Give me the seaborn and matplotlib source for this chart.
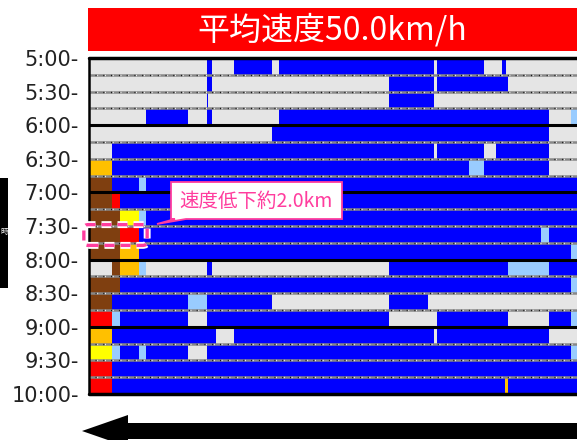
import numpy as np
import matplotlib
matplotlib.use("Agg")
import matplotlib.pyplot as plt
import seaborn as sns
from matplotlib.colors import ListedColormap
from matplotlib.patches import Rectangle, Polygon, FancyBboxPatch
import matplotlib.patheffects as pe

sns.set_theme(style="white")
plt.rcParams['font.family'] = ['DejaVu Sans', 'Noto Sans CJK JP']

W, H = 577, 440

title_text = "平均速度50.0km/h"
callout_text = "速度低下約2.0km"
side_text = "時"
time_ticks = ["5:00", "5:30", "6:00", "6:30", "7:00", "7:30",
              "8:00", "8:30", "9:00", "9:30", "10:00"]

# speed classes (code -> colour)
class_codes = ["G", "B", "L", "Y", "O", "R", "N"]
class_colors = ["#e5e5e5", "#0000ff", "#99ccff", "#ffff00",
                "#ffc000", "#ff0000", "#7f3f10"]

# each 15-min slot: runs of (class, end km)
slot_0500 = [("G", 4.72), ("B", 4.92), ("G", 5.8), ("B", 7.32), ("G", 7.6), ("B", 13.8),
             ("G", 13.92), ("B", 15.8), ("G", 16.52), ("B", 16.68), ("G", 20.0)]
slot_0515 = [("G", 4.72), ("B", 4.92), ("G", 12.0), ("B", 13.8), ("G", 13.92),
             ("B", 16.76), ("G", 20.0)]
slot_0530 = [("G", 4.72), ("B", 4.76), ("G", 12.0), ("B", 13.8), ("G", 20.0)]
slot_0545 = [("G", 2.28), ("B", 3.96), ("G", 4.72), ("B", 4.92), ("G", 7.6),
             ("B", 18.4), ("G", 19.28), ("L", 20.0)]
slot_0600 = [("G", 7.32), ("B", 18.4), ("G", 20.0)]
slot_0615 = [("G", 0.92), ("B", 13.8), ("G", 13.92), ("B", 15.8), ("G", 16.28),
             ("B", 18.4), ("G", 20.0)]
slot_0630 = [("O", 0.92), ("B", 15.2), ("L", 15.8), ("B", 18.4), ("G", 20.0)]
slot_0645 = [("N", 0.92), ("B", 2.0), ("L", 2.28), ("B", 20.0)]
slot_0700 = [("N", 0.92), ("R", 1.24), ("B", 20.0)]
slot_0715 = [("N", 1.24), ("Y", 2.0), ("L", 2.28), ("B", 20.0)]
slot_0730 = [("N", 1.24), ("R", 2.0), ("B", 18.08), ("L", 18.4), ("B", 20.0)]
slot_0745 = [("N", 1.24), ("O", 2.0), ("B", 19.28), ("L", 20.0)]
slot_0800 = [("G", 0.92), ("N", 1.24), ("O", 2.0), ("L", 2.28), ("G", 4.72), ("B", 4.92),
             ("G", 12.0), ("B", 16.76), ("L", 18.4), ("B", 20.0)]
slot_0815 = [("N", 1.24), ("B", 19.28), ("L", 20.0)]
slot_0830 = [("N", 0.92), ("B", 3.96), ("L", 4.72), ("B", 7.32), ("G", 12.0),
             ("B", 13.56), ("G", 20.0)]
slot_0845 = [("R", 0.92), ("L", 1.24), ("B", 3.96), ("G", 4.72), ("B", 12.0),
             ("G", 13.92), ("B", 16.76), ("G", 18.4), ("B", 19.28), ("L", 20.0)]
slot_0900 = [("O", 0.92), ("B", 5.08), ("G", 5.8), ("B", 13.8), ("G", 13.92),
             ("B", 18.4), ("G", 20.0)]
slot_0915 = [("Y", 0.92), ("L", 1.24), ("B", 2.0), ("L", 2.28), ("B", 3.96),
             ("G", 4.72), ("B", 19.28), ("L", 20.0)]
slot_0930 = [("R", 0.92), ("B", 20.0)]
slot_0945 = [("R", 0.92), ("B", 16.64), ("O", 16.76), ("B", 20.0)]

slots = [slot_0500, slot_0515, slot_0530, slot_0545, slot_0600, slot_0615,
         slot_0630, slot_0645, slot_0700, slot_0715, slot_0730, slot_0745,
         slot_0800, slot_0815, slot_0830, slot_0845, slot_0900, slot_0915,
         slot_0930, slot_0945]

step_km = 0.04
total_km = 20.0
ncol = int(round(total_km / step_km))
mat = np.zeros((len(slots), ncol))
for r, runs in enumerate(slots):
    s = 0
    for code, end in runs:
        e = int(round(end / step_km))
        mat[r, s:e] = class_codes.index(code)
        s = e

fig = plt.figure(figsize=(W / 100, H / 100), dpi=100)
ax_l, ax_top, ax_bot = 88.5, 58.0, 394.0
ax = fig.add_axes([ax_l / W, (H - ax_bot) / H, 500 / W, (ax_bot - ax_top) / H])
sns.heatmap(mat, ax=ax, cmap=ListedColormap(class_colors), vmin=-0.5, vmax=6.5,
            cbar=False, xticklabels=False, yticklabels=False, rasterized=True)

ax.set_yticks(np.arange(0, len(slots) + 1, 2))
ax.set_yticklabels([t + "-" for t in time_ticks], fontsize=15, color="#222222",
                   rotation=0)
ax.tick_params(axis="y", length=0, pad=7, left=False)
ax.set_ylim(len(slots), 0)
ax.set_xlim(0, ncol)

# row separators
for i in range(1, len(slots)):
    if i % 4 == 0:
        ax.axhline(i, color="black", lw=2.2, zorder=5)
    else:
        ax.axhline(i, color="#888888", lw=1.8, zorder=4)
        ax.axhline(i, color="white", lw=1.0, ls=(0, (0.6, 5.0)), zorder=4)
        ax.axhline(i, color="black", lw=1.0, ls=(1.2, (0.6, 5.0)), zorder=4)
ax.axhline(0, color="black", lw=2.5, zorder=6, clip_on=False)
ax.axhline(len(slots), color="black", lw=2.5, zorder=6, clip_on=False)
ax.axvline(0, color="black", lw=1.8, zorder=6, clip_on=False)


def fx(x):
    return x / W


def fy(y):
    return 1 - y / H


# title bar
fig.add_artist(Rectangle((fx(88), fy(51)), fx(620 - 88), 43 / H,
                         transform=fig.transFigure, color="#ff0000", lw=0))
fig.text(fx(332), fy(30), title_text, color="white", fontsize=23,
         ha="center", va="center", family=["Noto Sans CJK JP", "DejaVu Sans"])

# left black label box
fig.add_artist(Rectangle((fx(0), fy(288)), fx(8), 110 / H,
                         transform=fig.transFigure, color="black", lw=0))
fig.text(fx(4), fy(232), side_text, color="white", fontsize=5.5, ha="center",
         va="center", family=["Noto Sans CJK JP"])

# callout
pink = "#ff3d9e"
callout = [(171, 182), (342, 182), (342, 219), (186, 219), (157, 224),
           (175, 219), (171, 219)]
fig.add_artist(Polygon([(fx(x), fy(y)) for x, y in callout], closed=True,
                       transform=fig.transFigure, facecolor="white",
                       edgecolor=pink, lw=1.3, zorder=10))
fig.text(fx(256), fy(201), callout_text, color=pink, fontsize=14, ha="center",
         va="center", family=["Noto Sans CJK JP"], zorder=11)

# dashed highlight
hl = FancyBboxPatch((fx(85), fy(244.5)), fx(146 - 85), 19 / H,
                    boxstyle="round,pad=0.002,rounding_size=0.008",
                    transform=fig.transFigure, facecolor="none",
                    edgecolor=pink, lw=2.4, ls=(0, (3, 1.8)), zorder=10)
hl.set_path_effects([pe.Stroke(linewidth=5, foreground="white"), pe.Normal()])
fig.add_artist(hl)

# direction arrow
arrow = [(82, 431), (128, 415), (128, 423), (640, 423), (640, 439),
         (128, 439), (128, 447)]
fig.add_artist(Polygon([(fx(x), fy(y)) for x, y in arrow], closed=True,
                       transform=fig.transFigure, color="black", lw=0))

fig.savefig("out.png", dpi=100)
